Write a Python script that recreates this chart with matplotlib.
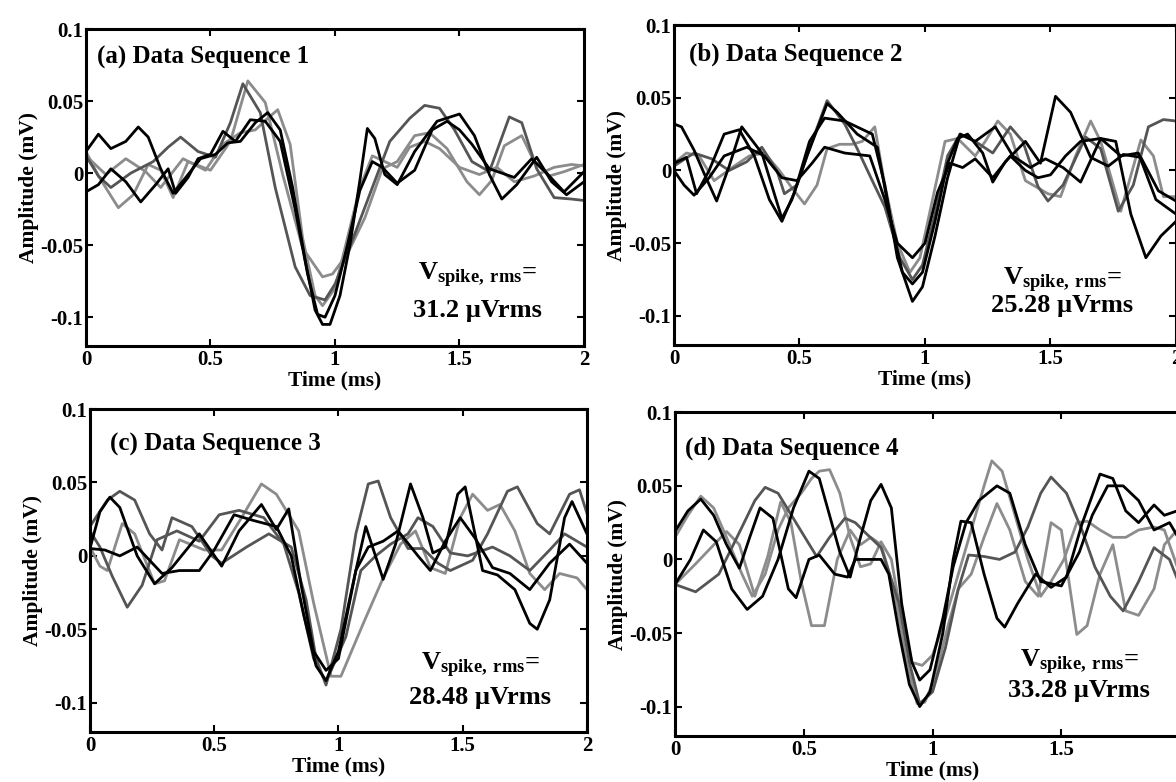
import matplotlib.pyplot as plt

plt.rcParams['font.family'] = 'Liberation Serif'
plt.rcParams['font.weight'] = 'bold'
plt.rcParams['mathtext.fontset'] = 'custom'
plt.rcParams['mathtext.rm'] = 'Liberation Serif:bold'
plt.rcParams['mathtext.bf'] = 'Liberation Serif:bold'
plt.rcParams['axes.unicode_minus'] = False

BLACK = '#000000'
DARK = '#555555'
LIGHT = '#8c8c8c'

# ---- (a) Data Sequence 1 ----
t_a_b1 = [0, .05, .1, .16, .21, .25, .3, .35, .41, .46, .52, .57, .62, .68, .73, .78, .83, .88, .92, .95, .98,
          1.02, 1.06, 1.1, 1.13, 1.16, 1.2, 1.25, 1.32, 1.41, 1.5, 1.56, 1.62, 1.67, 1.73, 1.81, 1.87, 1.93, 2.0]
v_a_b1 = [.015, .027, .017, .022, .032, .025, .003, -.014, -.001, .01, .013, .021, .022, .035, .042, .03, -.01,
          -.06, -.095, -.105, -.105, -.085, -.05, -.005, .031, .024, -.001, -.008, .015, .036, .041, .026, -.001,
          -.018, -.008, .011, -.006, -.015, -.006]
t_a_b2 = [0, .05, .1, .16, .22, .28, .33, .36, .41, .45, .5, .55, .6, .66, .72, .78, .84, .89, .93, .96, 1.0,
          1.05, 1.1, 1.15, 1.19, 1.25, 1.32, 1.39, 1.45, 1.5, 1.55, 1.62, 1.72, 1.79, 1.85, 1.92, 2.0]
v_a_b2 = [-.013, -.008, .003, -.006, -.02, -.008, .003, -.014, -.003, .01, .013, .029, .022, .037, .036, .022,
          -.025, -.07, -.098, -.1, -.085, -.05, -.012, .008, .004, -.007, .002, .03, .036, .03, .02, .003, -.003,
          .01, 0, -.013, .001]
t_a_d1 = [0, .05, .1, .18, .27, .33, .38, .45, .52, .58, .63, .7, .76, .84, .9, .96, 1.0, 1.08, 1.15, 1.22, 1.3,
          1.36, 1.42, 1.48, 1.55, 1.62, 1.7, 1.75, 1.81, 1.88, 1.95, 2.0]
v_a_d1 = [.012, -.002, -.01, 0, .008, .018, .025, .015, .011, .035, .062, .042, -.01, -.065, -.085, -.088, -.077,
          -.042, -.01, .022, .038, .047, .045, .03, .008, .001, .039, .035, .003, -.017, -.018, -.019]
t_a_l1 = [0, .05, .13, .19, .25, .3, .35, .41, .5, .58, .65, .72, .79, .87, .95, .99, 1.05, 1.12, 1.19, 1.25,
          1.32, 1.38, 1.45, 1.53, 1.58, 1.63, 1.68, 1.75, 1.8, 1.86, 1.92, 2.0]
v_a_l1 = [.015, -.002, -.024, -.015, .006, .002, -.017, .008, .002, .022, .064, .049, -.001, -.052, -.072, -.07,
          -.056, -.031, .003, .008, .026, .028, .017, -.006, -.015, -.005, .019, .026, .008, -.002, .001, .006]
t_a_l2 = [0, .08, .16, .24, .3, .39, .48, .55, .62, .68, .73, .77, .82, .87, .92, .95, 1.0, 1.05, 1.1, 1.15, 1.2,
          1.25, 1.3, 1.36, 1.42, 1.5, 1.58, 1.65, 1.72, 1.8, 1.88, 1.95, 2.0]
v_a_l2 = [.012, -.001, .01, .001, -.01, .01, .002, .02, .028, .03, .038, .044, .02, -.045, -.085, -.092, -.08,
          -.045, -.01, .012, .008, .004, .018, .022, .017, .004, -.001, .004, -.006, -.002, .004, .006, .005]

# ---- (b) Data Sequence 2 ----
t_b_b1 = [0, .03, .08, .12, .17, .22, .27, .35, .43, .47, .53, .61, .65, .73, .81, .87, .91, .95, .99, 1.04,
          1.09, 1.13, 1.17, 1.23, 1.27, 1.32, 1.4, 1.46, 1.52, 1.58, 1.66, 1.73, 1.79, 1.86, 1.93, 2.0]
v_b_b1 = [.032, .03, .014, -.002, -.021, .003, .03, .012, -.033, -.02, .01, .046, .04, .025, .016, -.04, -.07,
          -.078, -.07, -.035, .005, .022, .025, .012, -.008, .006, .02, .005, .051, .04, .009, .003, .011, .009,
          -.014, -.021]
t_b_b2 = [0, .05, .09, .14, .2, .26, .32, .38, .43, .48, .54, .6, .68, .79, .84, .89, .95, .99, 1.04, 1.09,
          1.14, 1.2, 1.28, 1.35, 1.42, 1.48, 1.55, 1.62, 1.7, 1.76, 1.82, 1.88, 1.94, 2.0]
v_b_b2 = [.005, .009, -.016, 0, .025, .028, .01, -.02, -.035, -.015, .02, .036, .034, .025, -.01, -.06, -.09,
          -.08, -.045, -.005, .025, .02, .03, .01, .002, .008, .002, -.008, .022, .02, -.03, -.06, -.045, -.035]
t_b_b3 = [0, .04, .08, .14, .2, .29, .36, .43, .49, .55, .6, .68, .78, .84, .89, .95, 1.0, 1.05, 1.1, 1.15,
          1.2, 1.27, 1.34, 1.4, 1.45, 1.5, 1.56, 1.62, 1.7, 1.78, 1.85, 1.92, 2.0]
v_b_b3 = [0, -.01, -.017, -.005, .01, .016, .01, -.005, -.007, .005, .016, .012, .01, -.02, -.05, -.06, -.05,
          -.015, .005, .002, .008, -.005, .01, 0, -.005, -.003, .01, .02, .022, .01, .012, -.02, -.03]
t_b_l1 = [0, .05, .1, .16, .24, .3, .36, .42, .47, .52, .57, .61, .66, .71, .75, .8, .84, .89, .94, .98, 1.03,
          1.08, 1.13, 1.2, 1.24, 1.29, 1.34, 1.4, 1.49, 1.54, 1.6, 1.66, 1.7, 1.78, 1.86, 1.91, 1.95, 2.0]
v_b_l1 = [.005, .012, .01, -.007, .003, .01, .012, 0, -.012, -.023, -.01, .015, .018, .018, .02, .03, -.01,
          -.05, -.07, -.06, -.02, .02, .022, .01, .02, .034, .025, -.007, -.016, -.018, .01, .034, .02, -.028,
          .021, .01, -.018, -.018]
t_b_d1 = [0, .08, .15, .22, .29, .35, .41, .44, .49, .55, .61, .68, .73, .79, .84, .9, .95, .99, 1.04, 1.09,
          1.14, 1.2, 1.27, 1.34, 1.39, 1.45, 1.49, 1.55, 1.64, 1.7, 1.77, 1.83, 1.89, 1.95, 2.0]
v_b_d1 = [.003, .012, .008, 0, .006, .016, 0, -.016, -.01, .02, .048, .032, .015, -.007, -.025, -.06, -.075,
          -.065, -.03, .01, .025, .02, .012, .03, .02, -.011, -.021, -.01, .023, .015, -.028, -.01, .03, .035,
          .034]

# ---- (c) Data Sequence 3 ----
t_c_b1 = [0, .04, .08, .12, .19, .26, .33, .44, .53, .6, .69, .75, .8, .85, .9, .95, 1.0, 1.07, 1.11, 1.18,
          1.23, 1.29, 1.34, 1.38, 1.43, 1.48, 1.51, 1.58, 1.64, 1.71, 1.77, 1.8, 1.85, 1.91, 1.94, 2.0]
v_c_b1 = [.005, .03, .04, .033, .0, -.019, -.008, .015, -.007, .017, .035, .018, .032, -.02, -.065, -.078,
          -.07, -.01, .02, -.016, .008, .049, .026, .002, .006, .042, .047, -.01, -.013, -.023, -.046, -.05, -.03,
          .026, .037, .015]
t_c_b2 = [0, .06, .12, .19, .29, .36, .44, .5, .58, .66, .75, .81, .86, .91, .95, 1.0, 1.07, 1.12, 1.18, 1.24,
          1.32, 1.37, 1.43, 1.49, 1.55, 1.62, 1.69, 1.77, 1.85, 1.93, 2.0]
v_c_b2 = [.005, .004, 0, .006, -.012, -.01, -.01, .004, .028, .024, .02, 0, -.04, -.075, -.085, -.065, -.01,
          .006, .01, .017, .0, -.01, .01, .026, .012, -.008, -.012, -.023, -.005, .008, -.005]
t_c_d1 = [0, .04, .09, .15, .21, .27, .35, .44, .52, .6, .7, .78, .84, .9, .95, 1.03, 1.09, 1.15, 1.21, 1.28,
          1.32, 1.38, 1.45, 1.52, 1.62, 1.69, 1.77, 1.85, 1.91, 2.0]
v_c_d1 = [.017, .006, -.014, -.035, -.02, .011, .017, .01, .028, .031, .026, .008, -.025, -.07, -.086, -.055,
          -.01, .0, .008, .015, .026, .02, .002, 0, .006, .0, -.01, .004, .015, .006]
t_c_d2 = [0, .07, .12, .18, .24, .29, .33, .41, .49, .53, .63, .72, .81, .87, .91, .95, 1.01, 1.07, 1.12, 1.16,
          1.21, 1.28, 1.34, 1.4, 1.45, 1.54, 1.6, 1.68, 1.72, 1.8, 1.85, 1.93, 1.97, 2.0]
v_c_d2 = [.02, .038, .044, .038, .015, .004, .026, .02, .0, -.005, .006, .015, .006, -.03, -.07, -.088, -.05,
          .015, .049, .051, .026, .005, .005, -.005, -.01, -.003, .015, .044, .047, .022, .015, .042, .045, .029]
t_c_l1 = [0, .04, .07, .13, .18, .26, .3, .36, .46, .53, .61, .69, .75, .84, .9, .97, 1.01, 1.1, 1.18, 1.25,
          1.31, 1.37, 1.43, 1.49, 1.54, 1.6, 1.65, 1.71, 1.77, 1.83, 1.89, 1.96, 2.0]
v_c_l1 = [.006, -.007, -.01, .022, .015, -.019, -.017, .011, .004, .004, .026, .049, .042, .017, -.032, -.082,
          -.082, -.046, -.015, .008, .017, -.008, -.012, .026, .042, .031, .035, .017, -.012, -.023, -.012, -.015,
          -.023]

# ---- (d) Data Sequence 4 ----
t_d_b1 = [0, .05, .1, .15, .2, .25, .29, .33, .38, .44, .47, .52, .56, .62, .67, .7, .75, .8, .83, .87, .91, .95,
          .99, 1.04, 1.08, 1.11, 1.15, 1.2, 1.25, 1.28, 1.33, 1.4, 1.46, 1.52, 1.58, 1.65, 1.7, 1.75, 1.8, 1.86,
          1.9, 1.95, 2.0]
v_d_b1 = [.019, .033, .041, .03, .01, -.006, .015, .035, .028, -.02, -.026, 0, .003, -.01, -.012, 0, 0, 0, -.01,
          -.05, -.085, -.1, -.09, -.05, 0, .026, .025, -.01, -.04, -.046, -.03, -.01, -.019, -.012, .024, .058,
          .055, .033, .025, .037, .03, .033, .033]
t_d_b2 = [0, .06, .11, .16, .22, .28, .34, .4, .46, .52, .56, .6, .64, .68, .72, .76, .8, .84, .88, .92, .95,
          .99, 1.04, 1.08, 1.13, 1.18, 1.25, 1.3, 1.36, 1.42, 1.5, 1.57, 1.62, 1.68, 1.74, 1.8, 1.86, 1.92, 1.97,
          2.0]
v_d_b2 = [-.017, 0, .02, .012, -.02, -.034, -.025, 0, .035, .06, .055, .03, .005, -.012, .015, .04, .051, .035,
          -.03, -.07, -.082, -.075, -.04, -.005, .025, .04, .05, .045, .01, -.015, -.018, .005, .03, .05, .05, .04,
          .02, .025, .01, 0]
t_d_l1 = [0, .05, .1, .15, .2, .26, .3, .35, .4, .44, .49, .53, .56, .6, .64, .68, .72, .76, .8, .84, .88, .92,
          .96, 1.0, 1.05, 1.1, 1.15, 1.2, 1.23, 1.27, 1.32, 1.37, 1.42, 1.46, 1.51, 1.56, 1.6, 1.65, 1.7, 1.75,
          1.8, 1.86, 1.9, 1.95, 2.0]
v_d_l1 = [.015, .03, .043, .035, .015, -.01, -.025, -.01, .02, .035, .045, .055, .06, .061, .045, .015, -.005,
          -.003, .012, 0, -.04, -.07, -.072, -.065, -.04, -.01, .02, .05, .067, .06, .03, 0, -.025, -.015, 0,
          .025, .026, .02, .015, .015, .02, .022, .02, -.005, -.03]
t_d_l2 = [0, .08, .14, .2, .25, .31, .36, .41, .45, .49, .53, .58, .63, .68, .72, .76, .8, .85, .9, .94, .97,
          1.01, 1.06, 1.1, 1.15, 1.2, 1.25, 1.3, 1.36, 1.41, 1.46, 1.5, 1.56, 1.6, 1.65, 1.7, 1.75, 1.8, 1.86,
          1.9, 1.95, 2.0]
v_d_l2 = [-.017, -.003, .008, .019, .01, -.025, .002, .039, .025, -.015, -.045, -.045, 0, .02, .01, .015, .01,
          -.02, -.07, -.098, -.097, -.08, -.045, -.02, -.01, .015, .038, .02, -.015, -.025, .025, .02, -.051,
          -.045, -.01, .01, -.035, -.038, -.02, .01, .02, -.002]
t_d_d1 = [0, .08, .17, .26, .31, .35, .4, .48, .55, .6, .66, .7, .74, .8, .87, .91, .95, 1.0, 1.05, 1.1, 1.14,
          1.2, 1.26, 1.32, 1.37, 1.42, 1.46, 1.52, 1.58, 1.63, 1.69, 1.74, 1.8, 1.86, 1.92, 1.97, 2.0]
v_d_d1 = [-.017, -.022, -.01, .022, .04, .049, .045, .022, .002, .015, .028, .025, .018, .008, -.03, -.07,
          -.098, -.09, -.06, -.02, .003, .002, 0, .005, .022, .045, .056, .045, .02, -.005, -.025, -.035, -.015,
          .008, 0, -.022, -.03]

titles = ['(a) Data Sequence 1', '(b) Data Sequence 2', '(c) Data Sequence 3', '(d) Data Sequence 4']
rms_values = ['31.2', '25.28', '28.48', '33.28']
x_ticks = [0, 0.5, 1, 1.5, 2]
x_ticklabels = ['0', '0.5', '1', '1.5', '2']
y_ticks = [-0.1, -0.05, 0, 0.05, 0.1]
y_ticklabels = ['-0.1', '-0.05', '0', '0.05', '0.1']

panel_traces = [
    [(t_a_l1, v_a_l1, LIGHT), (t_a_l2, v_a_l2, LIGHT), (t_a_d1, v_a_d1, DARK),
     (t_a_b2, v_a_b2, BLACK), (t_a_b1, v_a_b1, BLACK)],
    [(t_b_l1, v_b_l1, LIGHT), (t_b_d1, v_b_d1, DARK), (t_b_b3, v_b_b3, BLACK),
     (t_b_b2, v_b_b2, BLACK), (t_b_b1, v_b_b1, BLACK)],
    [(t_c_l1, v_c_l1, LIGHT), (t_c_d1, v_c_d1, DARK), (t_c_d2, v_c_d2, DARK),
     (t_c_b2, v_c_b2, BLACK), (t_c_b1, v_c_b1, BLACK)],
    [(t_d_l1, v_d_l1, LIGHT), (t_d_l2, v_d_l2, LIGHT), (t_d_d1, v_d_d1, DARK),
     (t_d_b2, v_d_b2, BLACK), (t_d_b1, v_d_b1, BLACK)],
]

# axes boxes in figure fractions [left, bottom, width, height]
boxes = [[0.0731, 0.5575, 0.4235, 0.4054],
         [0.5731, 0.5588, 0.4269, 0.4092],
         [0.0765, 0.0639, 0.4226, 0.4130],
         [0.5740, 0.0588, 0.4380, 0.4140]]
title_pos = [(0.022, 0.91), (0.03, 0.91), (0.04, 0.889), (0.02, 0.89)]
rms_pos = [(0.787, 0.223, 0.113), (0.773, 0.203, 0.125), (0.785, 0.205, 0.108), (0.785, 0.228, 0.142)]

fig = plt.figure(figsize=(11.76, 7.82), dpi=100)

for i in range(4):
    ax = fig.add_axes(boxes[i])
    for t, v, c in panel_traces[i]:
        ax.plot(t, v, color=c, lw=2.0, solid_joinstyle='round')
    ax.set_xlim(0, 2)
    ax.set_ylim(-0.12, 0.1)
    ax.set_xticks(x_ticks)
    # panel (d) runs past the right edge of the page, its "2" is not shown
    ax.set_xticklabels(x_ticklabels if i != 3 else x_ticklabels[:-1] + [''])
    ax.set_yticks(y_ticks)
    ax.set_yticklabels(y_ticklabels)
    ax.tick_params(direction='in', length=5, width=1.5, top=True, right=True, labelsize=15)
    ax.tick_params(axis='y', pad=2)
    ax.tick_params(axis='x', pad=3)
    for s in ax.spines.values():
        s.set_linewidth(2.2)
    ax.set_xlabel('Time (ms)', fontsize=15.5, fontweight='bold', labelpad=0)
    ax.set_ylabel('Amplitude (mV)', fontsize=15.5, fontweight='bold', labelpad=1)
    ax.text(title_pos[i][0], title_pos[i][1], titles[i], transform=ax.transAxes,
            fontsize=18, fontweight='bold', va='center', ha='left')
    x0, y1, y2 = rms_pos[i]
    ax.text(x0, y1, r'$\mathbf{V_{spike,\,rms}}$=', transform=ax.transAxes,
            fontsize=19, fontweight='bold', va='center', ha='center')
    ax.text(x0, y2, rms_values[i] + ' \u00b5Vrms', transform=ax.transAxes,
            fontsize=19, fontweight='bold', va='center', ha='center')

fig.savefig('out.png', dpi=100)
